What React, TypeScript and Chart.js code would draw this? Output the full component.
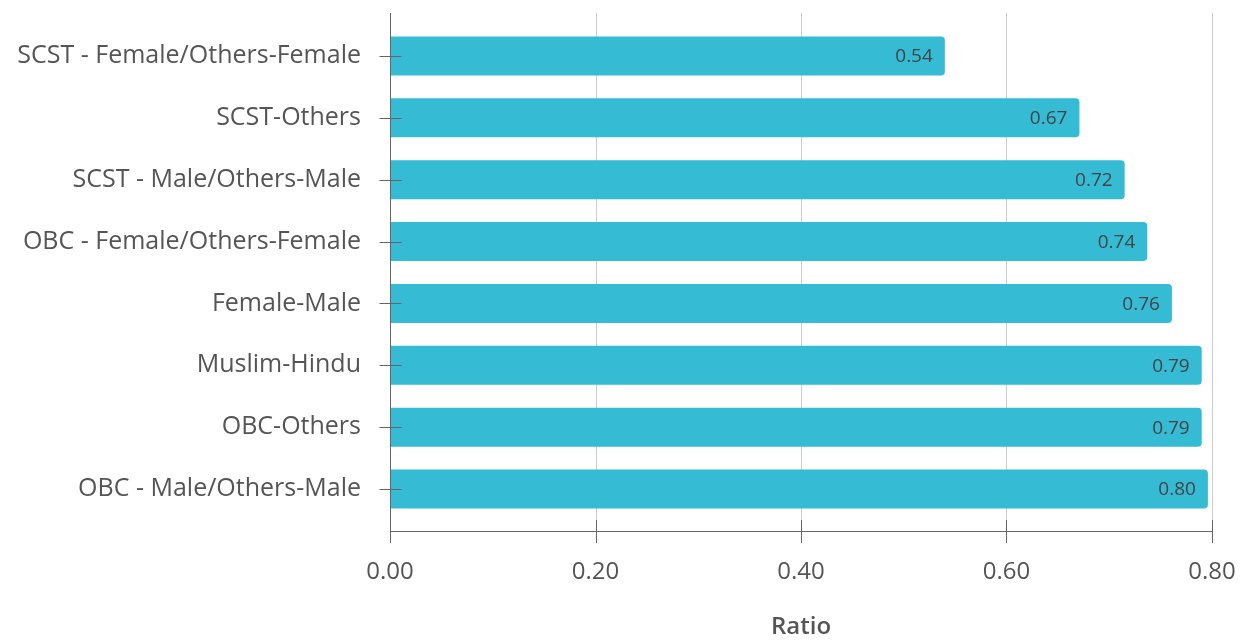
import React, { useEffect, useRef } from "react";
import { Chart, registerables } from "chart.js";

Chart.register(...registerables);

const categories = [
  "SCST - Female/Others-Female",
  "SCST-Others",
  "SCST - Male/Others-Male",
  "OBC - Female/Others-Female",
  "Female-Male",
  "Muslim-Hindu",
  "OBC-Others",
  "OBC - Male/Others-Male",
];
const ratios = [0.54, 0.671, 0.715, 0.737, 0.761, 0.79, 0.79, 0.796];
const ratioLabels = ["0.54", "0.67", "0.72", "0.74", "0.76", "0.79", "0.79", "0.80"];
const xTicks = [0, 0.2, 0.4, 0.6, 0.8];

const FONT = "'Open Sans', Lato, sans-serif";
const BAR = "#36bbd4";
const AXIS = "#666666";
const GRID = "#cccccc";
const TEXT = "#555555";

const zeroPad = (s: any) => {
  s.paddingTop = 0;
  s.paddingBottom = 0;
  s.paddingLeft = 0;
  s.paddingRight = 0;
};

const axesPlugin = {
  id: "customAxes",
  beforeDatasetsDraw(chart: any) {
    const { ctx, chartArea, scales } = chart;
    const x = scales.x;
    ctx.save();
    ctx.strokeStyle = GRID;
    ctx.lineWidth = 1;
    xTicks.forEach((v) => {
      if (v === 0) return;
      const px = Math.round(x.getPixelForValue(v)) + 0.5;
      ctx.beginPath();
      ctx.moveTo(px, chartArea.top - 12);
      ctx.lineTo(px, chartArea.bottom + 11);
      ctx.stroke();
    });
    ctx.restore();
  },
  afterDatasetsDraw(chart: any) {
    const { ctx, chartArea, scales } = chart;
    const x = scales.x;
    const y = scales.y;
    const left = Math.round(chartArea.left) + 0.5;
    const axisY = Math.round(chartArea.bottom + 11) + 0.5;
    ctx.save();
    ctx.strokeStyle = AXIS;
    ctx.lineWidth = 1;
    ctx.beginPath();
    ctx.moveTo(left, chartArea.top - 12);
    ctx.lineTo(left, chartArea.bottom + 23);
    ctx.stroke();
    ctx.beginPath();
    ctx.moveTo(left, axisY);
    ctx.lineTo(Math.round(x.getPixelForValue(0.8)) + 0.5, axisY);
    ctx.stroke();
    xTicks.forEach((v) => {
      const px = Math.round(x.getPixelForValue(v)) + 0.5;
      ctx.beginPath();
      ctx.moveTo(px, chartArea.bottom);
      ctx.lineTo(px, chartArea.bottom + 23);
      ctx.stroke();
    });
    categories.forEach((_, i) => {
      const py = Math.round(y.getPixelForValue(i)) + 0.5;
      ctx.beginPath();
      ctx.moveTo(left - 11, py);
      ctx.lineTo(left + 11, py);
      ctx.stroke();
    });
    const meta = chart.getDatasetMeta(0);
    ctx.fillStyle = "#444444";
    ctx.font = `19px ${FONT}`;
    ctx.textAlign = "right";
    ctx.textBaseline = "middle";
    meta.data.forEach((bar: any, i: number) => {
      ctx.fillText(ratioLabels[i], bar.x - 12, bar.y + 1);
    });
    ctx.restore();
  },
};

export default function App() {
  const ref = useRef<HTMLCanvasElement | null>(null);
  useEffect(() => {
    if (!ref.current) return;
    const chart = new Chart(ref.current, {
      type: "bar",
      data: {
        labels: categories,
        datasets: [
          {
            data: ratios,
            backgroundColor: BAR,
            borderRadius: { topLeft: 0, bottomLeft: 0, topRight: 4, bottomRight: 4 },
            borderSkipped: false,
            categoryPercentage: 1,
            barPercentage: 0.63,
          },
        ],
      },
      options: {
        indexAxis: "y",
        animation: false,
        responsive: true,
        maintainAspectRatio: false,
        layout: { padding: { top: 25, right: 41, left: 0, bottom: 0 } },
        plugins: { legend: { display: false }, tooltip: { enabled: false } },
        scales: {
          x: {
            min: 0,
            max: 0.8,
            afterBuildTicks: (s: any) => {
              s.ticks = xTicks.map((v) => ({ value: v }));
            },
            afterFit: (s: any) => {
              s.height = 122;
              zeroPad(s);
            },
            grid: { display: false, drawTicks: false },
            border: { display: false },
            ticks: {
              color: TEXT,
              font: { family: FONT, size: 24 },
              padding: 38,
              callback: (v: any) => Number(v).toFixed(2),
            },
            title: {
              display: true,
              text: "Ratio",
              color: TEXT,
              font: { family: FONT, size: 24, weight: "600" },
              padding: { top: 0, bottom: 0 },
            },
          },
          y: {
            afterFit: (s: any) => {
              s.width = 390;
              zeroPad(s);
            },
            grid: { display: false, drawTicks: false },
            border: { display: false },
            ticks: {
              color: TEXT,
              font: { family: FONT, size: 25 },
              padding: 29,
            },
          },
        },
      },
      plugins: [axesPlugin],
    });
    return () => chart.destroy();
  }, []);
  return (
    <div style={{ position: "absolute", left: 0, top: 0, width: 1253, height: 642, background: "#fff" }}>
      <canvas ref={ref} />
    </div>
  );
}
